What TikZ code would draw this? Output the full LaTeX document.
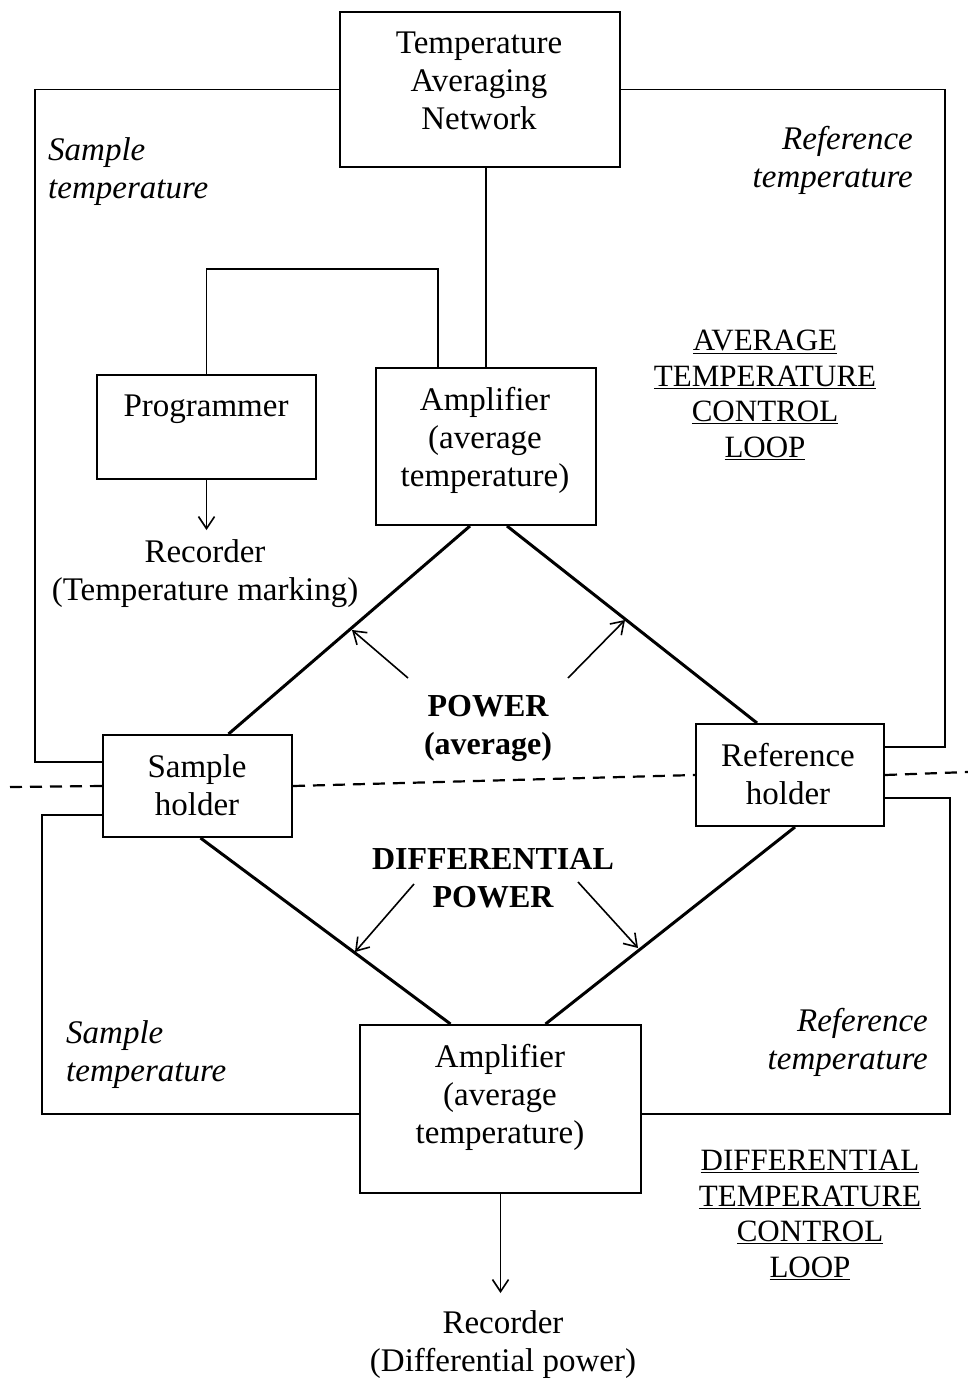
\documentclass[tikz,border=0pt]{standalone}
\usepackage{fontspec}
\setmainfont{Liberation Serif}
\usetikzlibrary{arrows.meta,calc}
\begin{document}
\begin{tikzpicture}[x=1pt,y=-1pt,
  txt/.style={font=\fontsize{33}{38}\selectfont, align=center, inner sep=0pt},
  ul/.style={font=\fontsize{31}{35.5}\selectfont, align=center, inner sep=0pt},
  box/.style={draw, line width=2pt, inner sep=0pt},
  wire/.style={line width=1.6pt},
  heavy/.style={line width=3pt},
  dashline/.style={line width=2.2pt, dash pattern=on 12pt off 8pt},
  arr/.style={line width=1.6pt, -{Straight Barb[length=12pt,width=16pt,line width=1.6pt]}},
]
\useasboundingbox (0,0) rectangle (968,1378);

% boxes
\node[box, minimum width=280pt, minimum height=155pt] (tan) at (480,89.5) {};
\node[box, minimum width=219pt, minimum height=104pt] (prog) at (206.5,427) {};
\node[box, minimum width=220pt, minimum height=157pt] (amp) at (486,446.5) {};
\node[box, minimum width=189pt, minimum height=102pt] (sh) at (197.5,786) {};
\node[box, minimum width=188pt, minimum height=102pt] (rh) at (790,775) {};
\node[box, minimum width=281pt, minimum height=168pt] (la) at (500.5,1109) {};

% box texts
\node[txt] (tanT) at (479,81) {Temperature\\Averaging\\Network};
\node[txt] (progT) at (206,409) {Programmer};
\node[txt] (ampT) at (485,440) {Amplifier\\(average\\temperature)};
\node[txt] (shT) at (197,785) {Sample\\holder};
\node[txt] (rhT) at (788,774) {Reference\\holder};
\node[txt] (laT) at (500,1097) {Amplifier\\(average\\temperature)};

% free texts
\node[txt] (rec1) at (205,574) {Recorder\\(Temperature marking)};
\node[txt] (rec2) at (503,1345) {Recorder\\(Differential power)};
\node[txt, font=\fontsize{32}{38}\selectfont\bfseries] (pow) at (488,728) {POWER\\(average)};
\node[txt, font=\fontsize{32}{38}\selectfont\bfseries] (dpow) at (493,878) {DIFFERENTIAL\\POWER};
\node[txt, align=left, anchor=west, font=\fontsize{33}{38}\selectfont\itshape] (st1) at (48,172) {Sample\\temperature};
\node[txt, align=right, anchor=east, font=\fontsize{33}{38}\selectfont\itshape] (rt1) at (913,160) {Reference\\temperature};
\node[txt, align=left, anchor=west, font=\fontsize{33}{38}\selectfont\itshape] (st2) at (66,1055) {Sample\\temperature};
\node[txt, align=right, anchor=east, font=\fontsize{33}{38}\selectfont\itshape] (rt2) at (928,1042) {Reference\\temperature};
\node[ul] (avg) at (765,395) {\underline{AVERAGE}\\\underline{TEMPERATURE}\\\underline{CONTROL}\\\underline{LOOP}};
\node[ul] (dtl) at (810,1215) {\underline{DIFFERENTIAL}\\\underline{TEMPERATURE}\\\underline{CONTROL}\\\underline{LOOP}};

% upper loops
\draw[wire] (tan.west) -- (35,89.5) |- ($(sh.west)+(0,-24)$);
\draw[wire] (tan.east) -- (945,89.5) |- ($(rh.east)+(0,-28)$);
\draw[wire] (amp.north) -- (amp.north |- tan.south);
\draw[wire] (prog.north) -- ++(0,-105) -| ($(amp.north west)+(63,0)$);
\draw[arr] (prog.south) -- ++(0,50);

% lower loops
\draw[wire] ($(sh.west)+(0,29)$) -- (42,815) |- ($(la.west)+(0,5)$);
\draw[wire] ($(rh.east)+(0,23)$) -- (950,798) |- ($(la.east)+(0,5)$);
\draw[arr] (la.south) -- ++(0,99);

% diamond
\draw[heavy] ($(amp.south)+(-16,0)$) -- ($(sh.north)+(31,0)$);
\draw[heavy] ($(amp.south)+(21,0)$) -- ($(rh.north)+(-33,0)$);
\draw[heavy] ($(sh.south)+(3,0)$) -- ($(la.north)+(-50,0)$);
\draw[heavy] ($(rh.south)+(5,0)$) -- ($(la.north)+(45,0)$);

% power arrows
\coordinate (p1) at (408,678);
\coordinate (p2) at (568,678);
\coordinate (p3) at (414,884);
\coordinate (p4) at (578,882);
\draw[arr] (p1) -- (352,630);
\draw[arr] (p2) -- (625,620);
\draw[arr] (p3) -- (355,952);
\draw[arr] (p4) -- (638,948);

% dashed line
\coordinate (dl) at (10,787);
\coordinate (dr) at (968,772);
\draw[dashline] (dl) -- (sh.west);
\draw[dashline] (sh.east) -- (rh.west);
\draw[dashline] (rh.east) -- (dr);
\end{tikzpicture}
\end{document}
